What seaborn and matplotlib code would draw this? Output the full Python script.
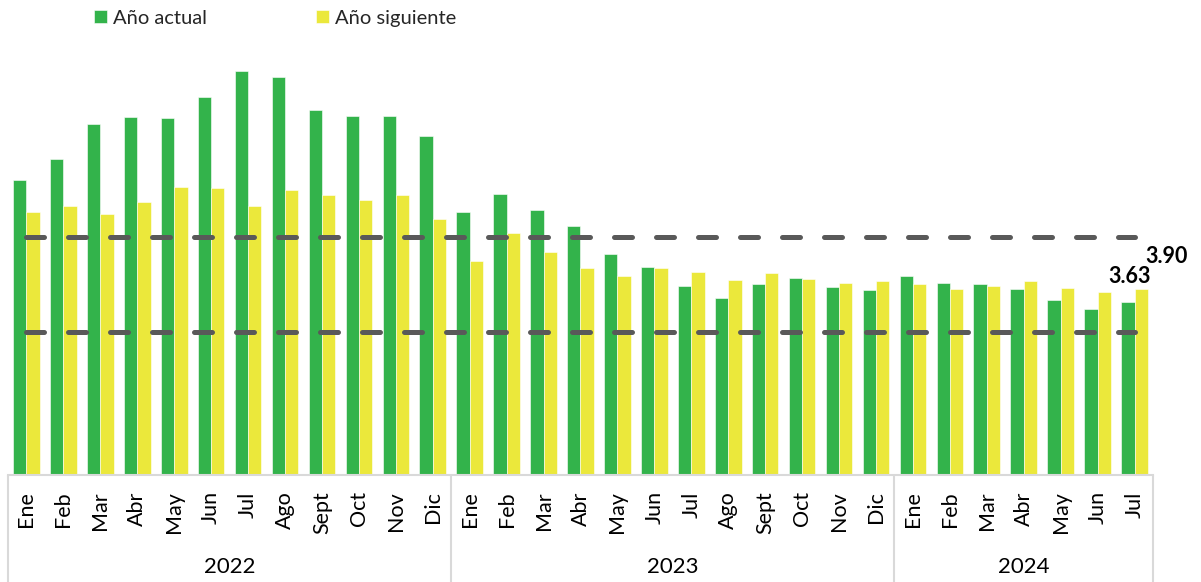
import pandas as pd
import matplotlib
matplotlib.use("Agg")
import matplotlib.pyplot as plt
import seaborn as sns

# ------------------------------
# Datos
# ------------------------------
meses = ["Ene", "Feb", "Mar", "Abr", "May", "Jun", "Jul", "Ago", "Sept", "Oct", "Nov", "Dic",
         "Ene", "Feb", "Mar", "Abr", "May", "Jun", "Jul", "Ago", "Sept", "Oct", "Nov", "Dic",
         "Ene", "Feb", "Mar", "Abr", "May", "Jun", "Jul"]
anios = ["2022", "2023", "2024"]
meses_por_anio = [12, 12, 7]

anio_actual = [6.21, 6.64, 7.39, 7.54, 7.50, 7.95, 8.49, 8.37, 7.67, 7.56, 7.55, 7.13,
               5.53, 5.91, 5.57, 5.23, 4.64, 4.38, 3.97, 3.72, 4.02, 4.14, 3.95, 3.88,
               4.18, 4.04, 4.01, 3.91, 3.67, 3.48, 3.63]
anio_siguiente = [5.53, 5.65, 5.48, 5.75, 6.05, 6.03, 5.65, 6.00, 5.88, 5.78, 5.88, 5.39,
                  4.50, 5.09, 4.68, 4.35, 4.19, 4.35, 4.26, 4.09, 4.24, 4.13, 4.03, 4.07,
                  4.01, 3.91, 3.97, 4.07, 3.93, 3.84, 3.90]
rango_meta = [3, 5]

series = ["Año actual", "Año siguiente"]
colores = ["#33B34B", "#EBE83B"]

# long format for seaborn
etiquetas = []
for anio, n in zip(anios, meses_por_anio):
    etiquetas += [f"{m} {anio}" for m in meses[len(etiquetas):len(etiquetas) + n]]
df = pd.DataFrame({
    "periodo": etiquetas * 2,
    "serie": [series[0]] * len(etiquetas) + [series[1]] * len(etiquetas),
    "valor": anio_actual + anio_siguiente,
})

# ------------------------------
# Figura
# ------------------------------
sns.set_theme(style="white")
plt.rcParams["font.family"] = ["Lato", "DejaVu Sans"]

fig = plt.figure(figsize=(12.01, 5.82), dpi=100)
ax = fig.add_axes([0.00666, 0.18436, 0.95337, 0.73454])

ancho = 0.72
sns.barplot(data=df, x="periodo", y="valor", hue="serie", order=etiquetas,
            palette=colores, width=ancho, saturation=1, ax=ax,
            edgecolor="white", linewidth=0.4)

n = len(etiquetas)
ax.set_xlim(-0.5, n - 0.5)
ax.set_ylim(0, 9)

# target band lines
for v in rango_meta:
    ax.hlines(v, 0, n - 1, colors="#595959", linewidth=3.6,
              linestyles=(0, (3.6, 4.8)), capstyle="round", zorder=3)

# last value labels
off = ancho / 4
ax.annotate(f"{anio_actual[-1]:.2f}", xy=(n - 1 - off, anio_actual[-1]),
            xytext=(1, 13.7), textcoords="offset points", ha="center", va="baseline",
            fontsize=15.5, fontweight="bold", color="black")
ax.annotate(f"{anio_siguiente[-1]:.2f}", xy=(n - 1 + off, anio_siguiente[-1]),
            xytext=(18, 19.4), textcoords="offset points", ha="center", va="baseline",
            fontsize=15.5, fontweight="bold", color="black")

# axes
ax.set_xticks(range(n))
ax.set_xticklabels(meses, rotation=90, fontsize=15.5, color="black")
ax.tick_params(axis="x", length=0, pad=12)
ax.set_yticks([])
ax.set_xlabel("")
ax.set_ylabel("")
for s in ["top", "left", "right"]:
    ax.spines[s].set_visible(False)
ax.spines["bottom"].set_color("#D9D9D9")
ax.spines["bottom"].set_linewidth(1.5)

# year groups
limites = [-0.5]
for k in meses_por_anio:
    limites.append(limites[-1] + k)
ax.vlines(limites, -0.251, 0, transform=ax.get_xaxis_transform(),
          colors="#D9D9D9", linewidth=1.5, clip_on=False)
for anio, a, b in zip(anios, limites[:-1], limites[1:]):
    ax.text((a + b) / 2, -0.2152, anio, transform=ax.get_xaxis_transform(),
            ha="center", va="center", fontsize=16, color="black")

# legend
handles, labels = ax.get_legend_handles_labels()
ax.get_legend().remove()
fig.legend(handles, labels, loc="center left", bbox_to_anchor=(94 / 1201, 0.969),
           ncol=2, frameon=False, fontsize=14.5, handlelength=0.65, handleheight=0.65,
           handletextpad=0.3, columnspacing=5.4, borderpad=0, borderaxespad=0)

fig.savefig("out.png", dpi=100)
